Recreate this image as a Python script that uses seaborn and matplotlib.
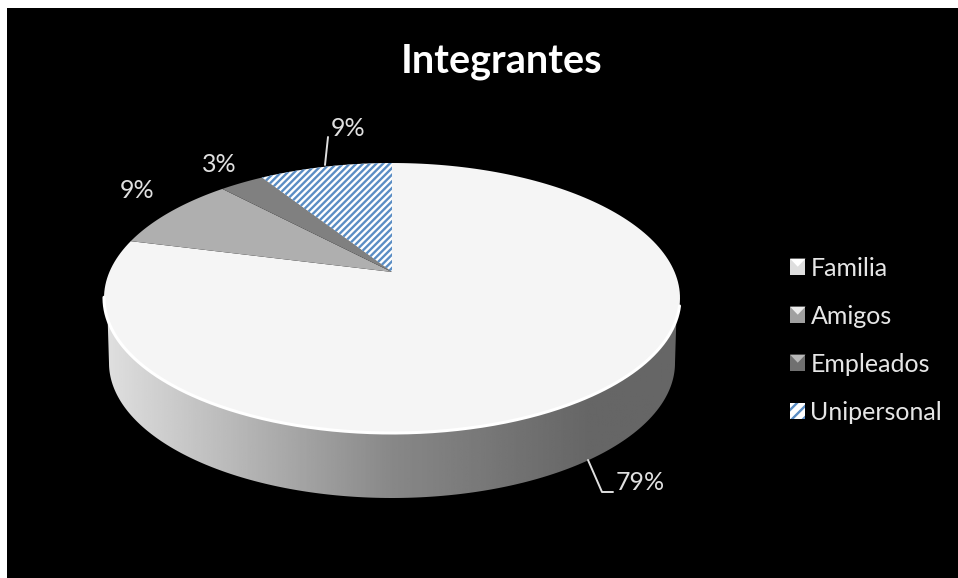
import matplotlib
matplotlib.use("Agg")
import matplotlib.pyplot as plt
from matplotlib.patches import Patch, Polygon, Rectangle
import seaborn as sns
import numpy as np

title = "Integrantes"
categories = ["Familia", "Amigos", "Empleados", "Unipersonal"]
values = [79, 9, 3, 9]
slice_colors = ["#f5f5f5", "#afafaf", "#808080", "#ffffff"]
legend_colors = ["#dedede", "#a0a0a0", "#707070", "#ffffff"]
legend_tops = ["#ffffff", "#ececec", "#b8b8b8", None]
label_pos = [(640, 483), (137, 191), (219, 165), (348, 128)]

sns.set_theme(style="dark", rc={"hatch.linewidth": 1.7, "hatch.color": "#5a8dc4"})
plt.rcParams["font.family"] = ["Lato", "DejaVu Sans"]

# pie top is a circle seen in perspective, these give the screen position
CX, APEX_Y, C, A, K = 392, 272, 0.1926, -77.6, 282.6


def rim(turns):
    t = np.asarray(turns) * 2 * np.pi
    u, v = np.sin(t), np.cos(t)
    d = 1 + C * v
    return np.column_stack([CX + K * u / d, (A * v + APEX_Y) / d])


fig, ax = plt.subplots(figsize=(9.58, 5.78), dpi=100)
fig.subplots_adjust(0, 0, 1, 1)
fig.patch.set_facecolor("white")
ax.set_facecolor("white")
ax.set_xlim(0, 958)
ax.set_ylim(578, 0)
ax.set_axis_off()
ax.add_patch(Rectangle((7, 8), 951, 570, facecolor="black", edgecolor="none", zorder=0))

# side of the pie
tt = np.linspace(0, np.pi, 200)
top_front = np.column_stack([392 + 285 * np.cos(tt), 298 + 134 * np.sin(tt)])
low_front = np.column_stack([392 + 283 * np.cos(tt), 363 + 135 * np.sin(tt)])
side = Polygon(np.vstack([low_front, top_front[::-1]]), closed=True,
               facecolor="none", edgecolor="none", transform=ax.transData)
ax.add_patch(side)
xs = np.linspace(100, 690, 300)
shade = np.interp(xs, [110, 395, 590, 690], [0.87, 0.53, 0.40, 0.40])
img = ax.imshow(shade[None, :], extent=(100, 690, 510, 280), cmap="gray", vmin=0, vmax=1,
                aspect="auto", zorder=1)
img.set_clip_path(side)
ax.set_xlim(0, 958)
ax.set_ylim(578, 0)

# top of the pie, drawn clockwise from the top of the ellipse
fracs = np.array(values) / sum(values)
edges = np.concatenate([[0], np.cumsum(fracs)])
for i, cat in enumerate(categories):
    pts = rim(np.linspace(edges[i], edges[i + 1], 200))
    poly = np.vstack([[CX, APEX_Y], pts])
    if cat == "Unipersonal":
        ax.add_patch(Polygon(poly, closed=True, facecolor=slice_colors[i],
                             edgecolor="#5a8dc4", hatch="/////", linewidth=0, zorder=2))
    else:
        ax.add_patch(Polygon(poly, closed=True, facecolor=slice_colors[i],
                             edgecolor="none", zorder=2))

# light rim on the front edge
front = rim(np.linspace(0.29, 0.72, 300))
ax.plot(front[:, 0], front[:, 1], color="white", lw=2.2, zorder=3, solid_capstyle="round")

# labels
for v, (x, y) in zip(values, label_pos):
    ax.text(x, y, f"{v}%", color="#e0e0e0", fontsize=18, ha="center", va="center", zorder=4)
ax.plot([325, 328], [165, 137], color="#e0e0e0", lw=1.4, zorder=4)
ax.plot([588, 602, 613], [460, 492, 492], color="#e0e0e0", lw=1.4, zorder=4)

ax.text(502, 62, title, color="white", fontsize=28.5, fontweight="bold", ha="center", va="center")

handles = []
for cat, col in zip(categories, legend_colors):
    if cat == "Unipersonal":
        handles.append(Patch(facecolor=col, edgecolor="#5a8dc4", hatch="///", linewidth=0, label=cat))
    else:
        handles.append(Patch(facecolor=col, edgecolor="none", label=cat))
leg = ax.legend(handles=handles, loc="center left", bbox_to_anchor=(790, 340),
                bbox_transform=ax.transData, frameon=False, fontsize=18,
                labelcolor="#e6e6e6", handlelength=0.62, handleheight=0.62,
                handletextpad=0.2, labelspacing=1.0, borderpad=0, borderaxespad=0)

# bevel highlight on the legend swatches
fig.canvas.draw()
inv = ax.transData.inverted()
for h, top in zip(leg.legend_handles, legend_tops):
    if top is None:
        continue
    (x0, y0), (x1, y1) = inv.transform(h.get_window_extent().get_points())
    tri = [(x0, y1), (x1, y1), ((x0 + x1) / 2, (y0 + y1) / 2)]
    ax.add_patch(Polygon(tri, closed=True, facecolor=top, edgecolor="none", zorder=6))

fig.savefig("out.png", dpi=100, facecolor="white")
